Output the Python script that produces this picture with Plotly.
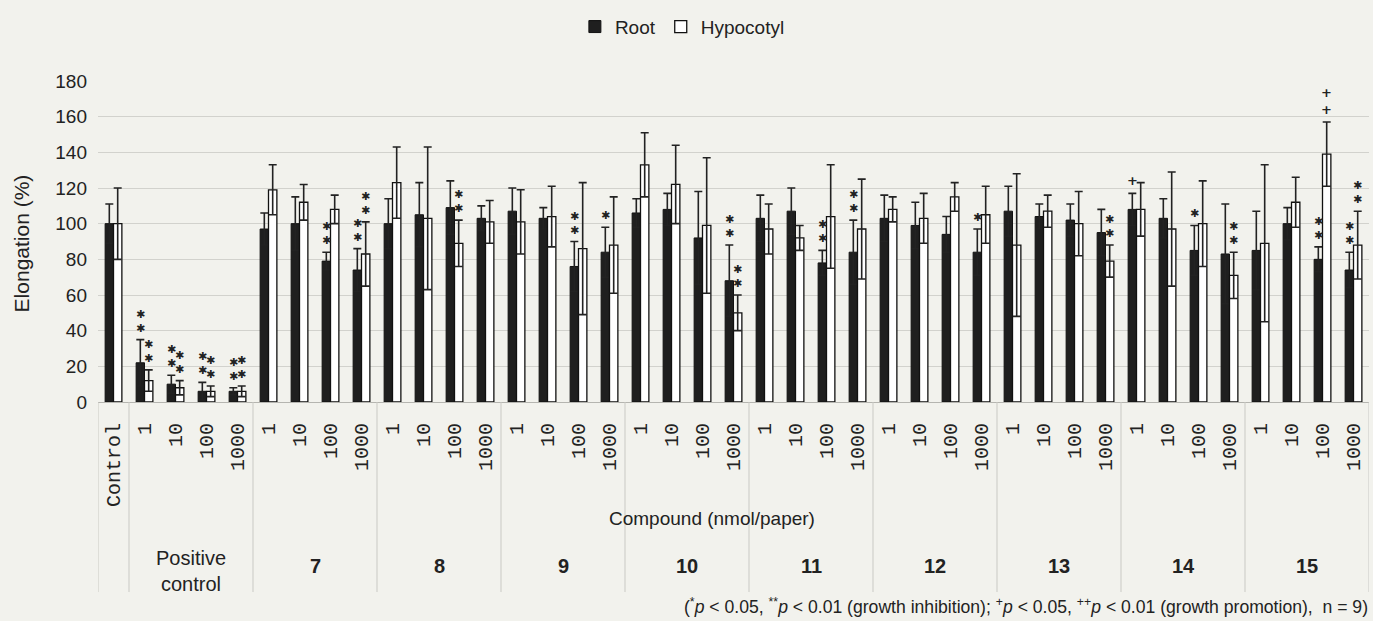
import plotly.graph_objects as go

# ---- data -------------------------------------------------------------
groups = ["Control", "Positive<br>control", "7", "8", "9", "10", "11", "12", "13", "14", "15"]
doses = ["1", "10", "100", "1000"]

tick_labels = ["Control"] + doses * 10

root_mean = [100,
             22, 10, 6, 6,
             97, 100, 79, 74,
             100, 105, 109, 103,
             107, 103, 76, 84,
             106, 108, 92, 68,
             103, 107, 78, 84,
             103, 99, 94, 84,
             107, 104, 102, 95,
             108, 103, 85, 83,
             85, 100, 80, 74]
root_err = [11,
            13, 5, 5, 2,
            9, 15, 5, 12,
            14, 18, 15, 7,
            13, 6, 14, 14,
            8, 9, 26, 20,
            13, 13, 7, 18,
            13, 13, 10, 13,
            14, 7, 9, 13,
            9, 11, 14, 28,
            22, 9, 7, 10]
hypo_mean = [100,
             12, 8, 6, 6,
             119, 112, 108, 83,
             123, 103, 89, 101,
             101, 104, 86, 88,
             133, 122, 99, 50,
             97, 92, 104, 97,
             108, 103, 115, 105,
             88, 107, 100, 79,
             108, 97, 100, 71,
             89, 112, 139, 88]
hypo_err = [20,
            6, 4, 3, 3,
            14, 10, 8, 18,
            20, 40, 13, 12,
            18, 17, 37, 27,
            18, 22, 38, 10,
            14, 7, 29, 28,
            7, 14, 8, 16,
            40, 9, 18, 9,
            15, 32, 24, 13,
            44, 14, 18, 19]

# significance marks (* / ** inhibition, + / ++ promotion)
root_sig = ["",
            "**", "**", "**", "**",
            "", "", "**", "**",
            "", "", "", "",
            "", "", "**", "*",
            "", "", "", "**",
            "", "", "**", "**",
            "", "", "", "*",
            "", "", "", "",
            "+", "", "*", "",
            "", "", "**", "**"]
hypo_sig = ["",
            "**", "**", "**", "**",
            "", "", "", "**",
            "", "", "**", "",
            "", "", "", "",
            "", "", "", "**",
            "", "", "", "",
            "", "", "", "",
            "", "", "", "**",
            "", "", "", "**",
            "", "", "++", "**"]

# ---- figure -----------------------------------------------------------
xs = list(range(len(tick_labels)))
BARGAP = 0.46
bar_w = (1 - BARGAP) / 2

FONT = "Liberation Sans"
INK = "#222222"
BG = "#f2f2ed"
GLYPH = {"*": "✱", "+": "<b>+</b>"}

fig = go.Figure()
fig.add_bar(
    x=xs, y=root_mean, name="Root",
    marker=dict(color="#1f1f1f", line=dict(color="#111111", width=1)),
    error_y=dict(type="data", array=root_err, visible=True,
                 color=INK, thickness=1.6, width=4),
)
fig.add_bar(
    x=xs, y=hypo_mean, name="Hypocotyl",
    marker=dict(color="#ffffff", line=dict(color="#111111", width=1.3)),
    error_y=dict(type="data", array=hypo_err, visible=True,
                 color=INK, thickness=1.6, width=4),
)

annotations = []

# significance symbols stacked above each error bar
def add_marks(offset, means, errs, sigs):
    for i, s in enumerate(sigs):
        if not s:
            continue
        is_star = s[0] == "*"
        annotations.append(dict(
            x=i + offset, y=means[i] + errs[i], xref="x", yref="y",
            text="<br>".join(GLYPH[c] for c in s), showarrow=False,
            yanchor="bottom", xanchor="center",
            yshift=3,
            font=dict(family="DejaVu Sans", size=11 if is_star else 13, color=INK),
        ))

add_marks(-bar_w / 2, root_mean, root_err, root_sig)
add_marks(bar_w / 2, hypo_mean, hypo_err, hypo_sig)

# category table below the axis
group_sizes = [1] + [4] * 10
bounds = [-0.5]
for n in group_sizes:
    bounds.append(bounds[-1] + n)

TABLE_BOTTOM = -0.592
shapes = [dict(type="line", xref="x", yref="paper", x0=b, x1=b, y0=0, y1=TABLE_BOTTOM,
               line=dict(color="#c9c9c4", width=1)) for b in bounds]

for gi, name in enumerate(groups):
    if gi == 0:
        continue
    center = (bounds[gi] + bounds[gi + 1]) / 2
    bold = gi >= 2
    annotations.append(dict(
        x=center, y=-0.51 if bold else -0.525, xref="x", yref="paper", showarrow=False,
        text=f"<b>{name}</b>" if bold else name,
        font=dict(family=FONT, size=20, color=INK),
        yanchor="middle", xanchor="center",
    ))

annotations.append(dict(
    x=0.483, y=-0.362, xref="paper", yref="paper", showarrow=False,
    text="Compound (nmol/paper)", font=dict(family=FONT, size=19, color=INK),
    yanchor="middle", xanchor="center",
))

annotations.append(dict(
    x=-0.0606, y=0.494, xref="paper", yref="paper", showarrow=False,
    text="Elongation (%)", textangle=-90, font=dict(family=FONT, size=21, color=INK),
    yanchor="middle", xanchor="center",
))

annotations.append(dict(
    x=1.001, y=-0.637, xref="paper", yref="paper", showarrow=False,
    text=("(<sup>*</sup><i>p</i> &lt; 0.05, <sup>**</sup><i>p</i> &lt; 0.01 (growth inhibition); "
          "<sup>+</sup><i>p</i> &lt; 0.05, <sup>++</sup><i>p</i> &lt; 0.01 (growth promotion),  n = 9)"),
    font=dict(family=FONT, size=17.6, color=INK),
    yanchor="middle", xanchor="right",
))

fig.update_layout(
    width=1373, height=621,
    margin=dict(l=98, r=4, t=81, b=219),
    paper_bgcolor=BG, plot_bgcolor=BG,
    barmode="group", bargap=BARGAP, bargroupgap=0,
    font=dict(family=FONT, color=INK),
    showlegend=True,
    legend=dict(orientation="h", xref="container", yref="container",
                x=0.497, y=0.957, xanchor="center", yanchor="middle",
                font=dict(family=FONT, size=19, color=INK),
                bgcolor="rgba(0,0,0,0)", itemwidth=30),
    xaxis=dict(range=[-0.5, len(xs) - 0.5], tickmode="array", tickvals=xs,
               ticktext=tick_labels, tickangle=-90,
               tickfont=dict(family="Liberation Mono", size=20, color=INK),
               ticks="", ticklabelstandoff=12,
               showline=True, linecolor="#b5b5b0", linewidth=1,
               showgrid=False, zeroline=False, fixedrange=True),
    yaxis=dict(range=[0, 180], dtick=20, tick0=0,
               tickfont=dict(family=FONT, size=19, color=INK),
               ticks="", ticklabelstandoff=10,
               showgrid=True, gridcolor="#d2d2cd", gridwidth=1,
               zeroline=False, showline=False, fixedrange=True),
    annotations=annotations,
    shapes=shapes,
)

fig.write_html("out.html")
